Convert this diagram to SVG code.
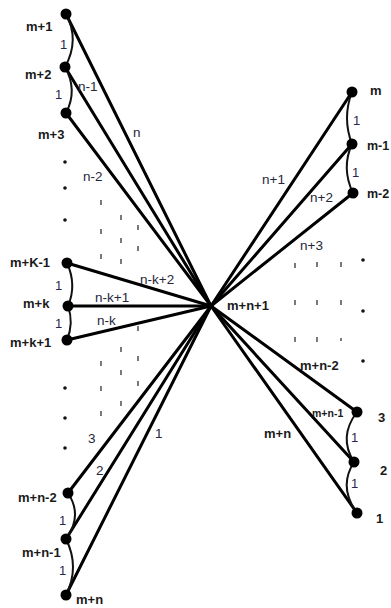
<svg xmlns="http://www.w3.org/2000/svg" width="391" height="608" viewBox="0 0 391 608">
<style>
.bg{fill:#fff}
.e{stroke:#000;stroke-width:3;stroke-linecap:round;fill:none}
.c{stroke:#111;stroke-width:2;fill:none}
.d{stroke:#222;stroke-width:1.2;fill:none}
.n{fill:#000}
.dot{fill:#111}
.nl{font-family:"Liberation Sans",Arial,sans-serif;font-size:13px;font-weight:bold;fill:#1a1a1a}
.el{font-family:"Liberation Sans",Arial,sans-serif;font-size:13.5px;fill:#26263a}
.one{font-family:"Liberation Sans",Arial,sans-serif;font-size:13px;fill:#262650}
</style>
<rect class="bg" x="0" y="0" width="391" height="608"/>
<g id="connectors">
<line class="e" x1="66" y1="14" x2="211" y2="306"/>
<line class="e" x1="65" y1="67" x2="211" y2="306"/>
<line class="e" x1="66" y1="113" x2="211" y2="306"/>
<line class="e" x1="67" y1="263" x2="211" y2="306"/>
<line class="e" x1="68" y1="306" x2="211" y2="306"/>
<line class="e" x1="67" y1="340" x2="211" y2="306"/>
<line class="e" x1="68" y1="493" x2="211" y2="306"/>
<line class="e" x1="66" y1="539" x2="211" y2="306"/>
<line class="e" x1="66" y1="595" x2="211" y2="306"/>
<line class="e" x1="352" y1="92" x2="211" y2="306"/>
<line class="e" x1="352" y1="144" x2="211" y2="306"/>
<line class="e" x1="353" y1="193" x2="211" y2="306"/>
<line class="e" x1="357" y1="412" x2="211" y2="306"/>
<line class="e" x1="354" y1="462" x2="211" y2="306"/>
<line class="e" x1="357" y1="513" x2="211" y2="306"/>
<path class="c" d="M66,14 Q80,40 65,67"/>
<path class="c" d="M65,67 Q78,90 66,113"/>
<path class="c" d="M67,263 Q77,285 68,306"/>
<path class="c" d="M68,306 Q74,323 67,340"/>
<path class="c" d="M68,493 Q83,516 66,539"/>
<path class="c" d="M66,539 Q80,567 66,595"/>
<path class="c" d="M352,92 Q342,118 352,144"/>
<path class="c" d="M352,144 Q341,168 353,193"/>
<path class="c" d="M357,412 Q338,437 354,462"/>
<path class="c" d="M354,462 Q338,487 357,513"/>
<path class="d" d="M101,200v5M101,229v5M101,254v5M101,361v5M101,386v5M101,411v5"/>
<path class="d" d="M121,215v5M121,238v5M121,259v5M121,347v5M121,370v5M121,401v5"/>
<path class="d" d="M138,225v5M138,246v5M138,326v5M138,356v5M138,381v5"/>
<path class="d" d="M295,263v5M317,262v5M341,262v5M295,300v5M317,300v5M341,300v5M295,337v5M317,337v5M341,338v3"/>
<text class="el" x="78" y="91">n-1</text>
<text class="el" x="133" y="137">n</text>
<text class="el" x="83" y="181">n-2</text>
<text class="el" x="140" y="284">n-k+2</text>
<text class="el" x="95" y="302">n-k+1</text>
<text class="el" x="97" y="325">n-k</text>
<text class="el" x="88" y="443">3</text>
<text class="el" x="96" y="475">2</text>
<text class="el" x="155" y="438">1</text>
<text class="el" x="262" y="184">n+1</text>
<text class="el" x="310" y="202">n+2</text>
<text class="el" x="300" y="250">n+3</text>
<text class="one" x="60" y="49">1</text>
<text class="one" x="55" y="99">1</text>
<text class="one" x="55" y="290">1</text>
<text class="one" x="55" y="328">1</text>
<text class="one" x="59" y="525">1</text>
<text class="one" x="59" y="575">1</text>
<text class="one" x="353" y="125">1</text>
<text class="one" x="352" y="177">1</text>
<text class="one" x="351" y="442">1</text>
<text class="one" x="351" y="488">1</text>
</g>
<g id="ellipses">
<circle class="dot" cx="65" cy="162" r="1.8"/>
<circle class="dot" cx="65" cy="188" r="1.8"/>
<circle class="dot" cx="65" cy="220" r="1.8"/>
<circle class="dot" cx="65" cy="388" r="1.8"/>
<circle class="dot" cx="65" cy="418" r="1.8"/>
<circle class="dot" cx="65" cy="448" r="1.8"/>
<circle class="dot" cx="363" cy="260" r="1.8"/>
<circle class="dot" cx="363" cy="311" r="1.8"/>
<circle class="dot" cx="363" cy="361" r="1.8"/>
</g>
<g id="n-m1"><circle class="n" cx="66" cy="14" r="5.5"/><text class="nl" x="26" y="31">m+1</text></g>
<g id="n-m2"><circle class="n" cx="65" cy="67" r="5.5"/><text class="nl" x="25" y="79">m+2</text></g>
<g id="n-m3"><circle class="n" cx="66" cy="113" r="5.5"/><text class="nl" x="38" y="139">m+3</text></g>
<g id="n-mk-1"><circle class="n" cx="67" cy="263" r="5.5"/><text class="nl" x="10" y="267">m+K-1</text></g>
<g id="n-mk"><circle class="n" cx="68" cy="306" r="5.5"/><text class="nl" x="23" y="308">m+k</text></g>
<g id="n-mk1"><circle class="n" cx="67" cy="340" r="5.5"/><text class="nl" x="10" y="347">m+k+1</text></g>
<g id="n-mn-2"><circle class="n" cx="68" cy="493" r="5.5"/><text class="nl" x="18" y="502">m+n-2</text></g>
<g id="n-mn-1"><circle class="n" cx="66" cy="539" r="5.5"/><text class="nl" x="22" y="557">m+n-1</text></g>
<g id="n-mn"><circle class="n" cx="66" cy="595" r="5.5"/><text class="nl" x="76" y="604">m+n</text></g>
<g id="n-center"><text class="nl" x="227" y="310">m+n+1</text></g>
<g id="n-m"><circle class="n" cx="352" cy="92" r="5.5"/><text class="nl" x="370" y="95">m</text></g>
<g id="n-m-1"><circle class="n" cx="352" cy="144" r="5.5"/><text class="nl" x="367" y="150" style="font-size:12.5px">m-1</text></g>
<g id="n-m-2"><circle class="n" cx="353" cy="193" r="5.5"/><text class="nl" x="367" y="198" style="font-size:12.5px">m-2</text></g>
<g id="n-3"><circle class="n" cx="357" cy="412" r="5.5"/><text class="nl" x="378" y="422">3</text></g>
<g id="n-2"><circle class="n" cx="354" cy="462" r="5.5"/><text class="nl" x="380" y="475">2</text></g>
<g id="n-1"><circle class="n" cx="357" cy="513" r="5.5"/><text class="nl" x="376" y="523">1</text></g>
<g id="edge-labels-right">
<text class="nl" x="300" y="370">m+n-2</text>
<text class="nl" x="312" y="417" style="font-size:10.5px">m+n-1</text>
<text class="nl" x="264" y="438">m+n</text>
</g>
</svg>
